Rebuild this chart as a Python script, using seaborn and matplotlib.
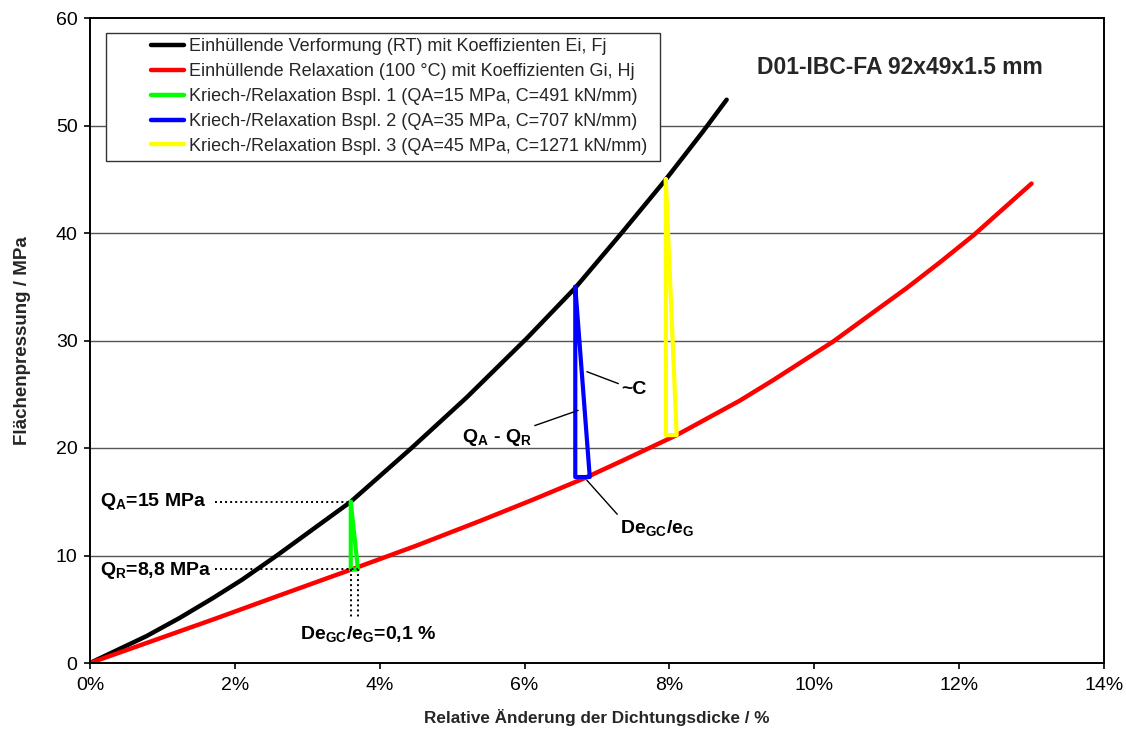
import matplotlib
matplotlib.use("Agg")
import matplotlib.pyplot as plt
from matplotlib.patches import Rectangle
from matplotlib.lines import Line2D
from matplotlib.ticker import FuncFormatter
import seaborn as sns
import pandas as pd

# Envelope curves (strain in %, surface pressure in MPa)
verformung_x = [0, 0.78, 1.24, 1.7, 2.1, 2.58, 3.6, 4.44, 5.2, 6.03, 6.7, 7.34, 7.94, 8.47, 8.79]
verformung_y = [0, 2.5, 4.2, 6.05, 7.75, 10, 15, 20, 24.7, 30.2, 34.9, 40, 44.9, 49.5, 52.4]
relaxation_x = [0, 1.7, 2.58, 3.65, 4.5, 5.38, 6.1, 6.83, 7.36, 8.1, 8.97, 9.43, 10.26,
                10.81, 11.28, 11.74, 12.2, 13.0]
relaxation_y = [0, 4.05, 6.2, 8.8, 10.9, 13.2, 15.15, 17.2, 18.85, 21.2, 24.4, 26.3, 29.9,
                32.6, 34.9, 37.3, 39.8, 44.6]

# Creep/relaxation examples: (strain start, strain end, QA, QR)
bsp1 = (3.6, 3.7, 15.0, 8.7)
bsp2 = (6.7, 6.9, 35.0, 17.3)
bsp3 = (7.95, 8.1, 45.0, 21.2)

labels = [
    "Einhüllende Verformung (RT) mit Koeffizienten Ei, Fj",
    "Einhüllende Relaxation (100 °C) mit Koeffizienten Gi, Hj",
    "Kriech-/Relaxation Bspl. 1 (QA=15 MPa, C=491 kN/mm)",
    "Kriech-/Relaxation Bspl. 2 (QA=35 MPa, C=707 kN/mm)",
    "Kriech-/Relaxation Bspl. 3 (QA=45 MPa, C=1271 kN/mm)",
]
colors = ["#000000", "#FF0000", "#00FF00", "#0000FF", "#FFFF00"]
title = "D01-IBC-FA 92x49x1.5 mm"

sns.set_style("white")
plt.rcParams["font.family"] = ["Liberation Sans", "DejaVu Sans"]
plt.rcParams["mathtext.fontset"] = "custom"
plt.rcParams["mathtext.rm"] = "Liberation Sans"
plt.rcParams["mathtext.bf"] = "Liberation Sans:bold"
plt.rcParams["mathtext.it"] = "Liberation Sans:italic"

fig = plt.figure(figsize=(11.26, 7.31), dpi=100)
ax = fig.add_axes([90 / 1126, 68 / 731, 1014 / 1126, 645 / 731])

ax.set_xlim(0, 14)
ax.set_ylim(0, 60)
ax.set_yticks(range(0, 61, 10))
ax.set_xticks(range(0, 15, 2))
ax.xaxis.set_major_formatter(FuncFormatter(lambda v, p: f"{v:.0f}%"))
for yv in range(10, 60, 10):
    ax.axhline(yv, color="#555555", lw=1.0, zorder=0)


def triangle(b):
    x0, x1, qa, qr = b
    return pd.DataFrame({"x": [x0, x0, x1, x0], "y": [qa, qr, qr, qa]})


sns.lineplot(x=verformung_x, y=verformung_y, color=colors[0], lw=3.2, ax=ax,
             sort=False, estimator=None)
sns.lineplot(x=relaxation_x, y=relaxation_y, color=colors[1], lw=3.2, ax=ax,
             sort=False, estimator=None)
for b, c in zip([bsp1, bsp2, bsp3], colors[2:]):
    t = triangle(b)
    sns.lineplot(data=t, x="x", y="y", color=c, lw=3.0, ax=ax, sort=False, estimator=None)

# Dotted guide lines for example 1
dot = (0, (1, 1.6))
ax.plot([1.73, bsp1[0]], [bsp1[2], bsp1[2]], color="black", lw=1.4, ls=dot)
ax.plot([1.73, bsp1[1]], [bsp1[3], bsp1[3]], color="black", lw=1.4, ls=dot)
ax.plot([bsp1[0], bsp1[0]], [bsp1[3], 4.2], color="black", lw=1.4, ls=dot)
ax.plot([bsp1[1], bsp1[1]], [bsp1[3], 4.2], color="black", lw=1.4, ls=dot)

tk = dict(fontsize=14, fontweight="bold", color="black")
ax.text(0.14, bsp1[2], r"Q$_\mathbf{A}$=15 MPa", ha="left", va="center", **tk)
ax.text(0.14, 8.6, r"Q$_\mathbf{R}$=8,8 MPa", ha="left", va="center", **tk)
ax.text(2.9, 2.7, r"De$_\mathbf{GC}$/e$_\mathbf{G}$=0,1 %", ha="left", va="center", **tk)

# Leader-line labels at example 2
ax.annotate("~C", xy=(6.86, 27.1), xytext=(7.34, 25.4), ha="left", va="center",
            arrowprops=dict(arrowstyle="-", color="black", lw=1.0, shrinkA=0, shrinkB=0,
                            relpos=(0, 0.8)), **tk)
ax.annotate(r"Q$_\mathbf{A}$ - Q$_\mathbf{R}$", xy=(6.74, 23.5), xytext=(5.13, 21.0),
            ha="left", va="center",
            arrowprops=dict(arrowstyle="-", color="black", lw=1.0, shrinkA=0, shrinkB=0,
                            relpos=(1.0, 1.0)), **tk)
ax.annotate(r"De$_\mathbf{GC}$/e$_\mathbf{G}$", xy=(6.86, 17.0), xytext=(7.32, 12.6),
            ha="left", va="center",
            arrowprops=dict(arrowstyle="-", color="black", lw=1.0, shrinkA=0, shrinkB=0,
                            relpos=(0, 1.0)), **tk)

ax.text(11.18, 55.35, title, ha="center", va="center", fontsize=16.5, fontweight="bold")

# Legend with a rectangular frame
handles = [Line2D([], [], color=c, lw=3.2) for c in colors]
ax.add_patch(Rectangle((16 / 1014, (663 - 160.5) / 645), 554 / 1014, 127.5 / 645,
                       transform=ax.transAxes, facecolor="white", edgecolor="#333333",
                       lw=1.0, zorder=4))
leg = ax.legend(handles, labels, loc="upper left", bbox_to_anchor=(61 / 1014, (663 - 38) / 645),
                frameon=False, fontsize=13, handlelength=1.83, handletextpad=0.28,
                labelspacing=0.44, borderaxespad=0, borderpad=0)
leg.set_zorder(5)

for s in ax.spines.values():
    s.set_color("black")
    s.set_linewidth(1.4)
ax.tick_params(axis="both", which="major", direction="out", length=4, width=1.2,
               color="black", labelsize=14, labelcolor="black")
ax.tick_params(axis="x", pad=6)
ax.tick_params(axis="y", pad=5, left=True)
ax.tick_params(axis="x", bottom=True)
ax.set_xlabel("Relative Änderung der Dichtungsdicke / %", fontsize=12.3, fontweight="bold", labelpad=11)
ax.set_ylabel("Flächenpressung / MPa", fontsize=13.5, fontweight="bold", labelpad=18)

fig.savefig("out.png", dpi=100)
